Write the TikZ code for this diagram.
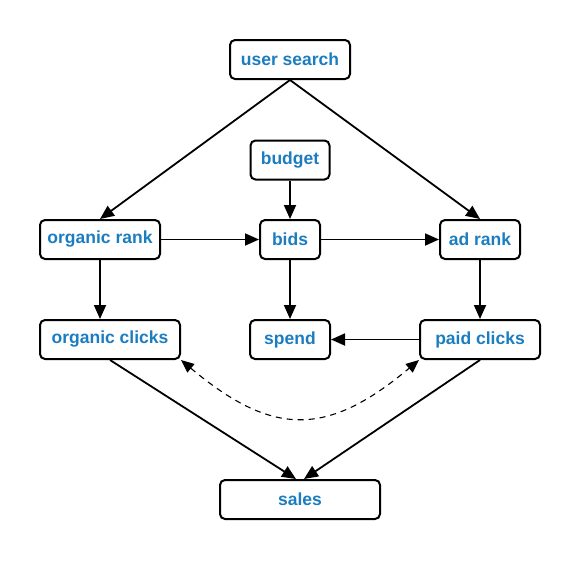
\documentclass[tikz,border=0pt]{standalone}
\usepackage{fontspec}
\setmainfont{Liberation Sans}
\usetikzlibrary{arrows.meta}
\definecolor{labelblue}{RGB}{27,125,192}
\begin{document}
\begin{tikzpicture}[x=1pt,y=-1pt,
        box/.style={draw,line width=2pt,rounded corners=5pt,minimum height=39pt,
            inner sep=0pt,text=labelblue,font=\fontsize{17.5}{19}\selectfont\bfseries},
        flow/.style={line width=1.8pt,-{Triangle[length=14pt,width=12pt]}},
        link/.style={line width=1.1pt,dash pattern=on 6pt off 5pt,
            {Triangle[length=13pt,width=11pt]}-{Triangle[length=13pt,width=11pt]}}]
        \useasboundingbox (0,0) rectangle (580,560);

        \node[box,minimum width=120pt] (search) at (290,59.5) {user search};
        \node[box,minimum width=79pt] (budget) at (290,160) {budget};
        \node[box,minimum width=120pt] (orank) at (100,239.5) {organic rank};
        \node[box,minimum width=60pt] (bids) at (290,239.5) {bids};
        \node[box,minimum width=80pt] (arank) at (480,239.5) {ad rank};
        \node[box,minimum width=140pt] (oclicks) at (110,339.5) {organic clicks};
        \node[box,minimum width=80pt] (spend) at (290,339.5) {spend};
        \node[box,minimum width=120pt] (pclicks) at (480,339.5) {paid clicks};
        \node[box,minimum width=160pt] (sales) at (300,499.5) {sales};

        \draw[flow] (search.south) -- (orank.north);
        \draw[flow] (search.south) -- (arank.north);
        \draw[flow] (budget) -- (bids);
        \draw[flow] (orank) -- (bids);
        \draw[flow] (bids) -- (arank);
        \draw[flow] (orank) -- (orank |- oclicks.north);
        \draw[flow] (bids) -- (spend);
        \draw[flow] (arank) -- (pclicks);
        \draw[flow] (pclicks) -- (spend);
        \draw[flow] (oclicks.south) -- ([xshift=-4pt]sales.north);
        \draw[flow] (pclicks.south) -- ([xshift=4pt]sales.north);
        %both ways
        \draw[link] (oclicks.south east) .. controls +(92,77) and +(-92,77) .. (pclicks.south west);
\end{tikzpicture}
\end{document}
